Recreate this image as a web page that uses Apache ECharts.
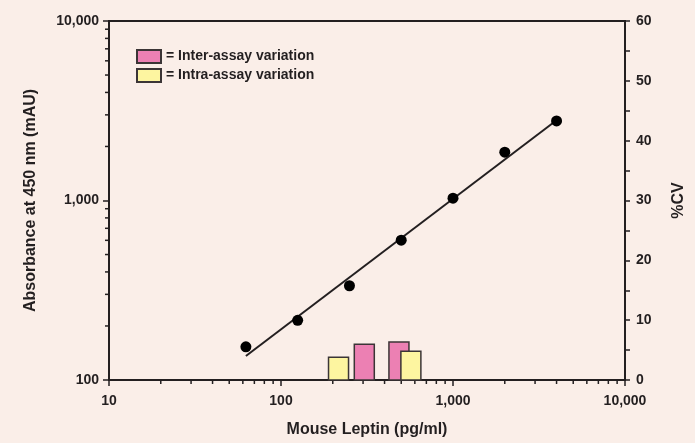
<!DOCTYPE html>
<html>
<head>
<meta charset="utf-8">
<script src="https://cdn.jsdelivr.net/npm/echarts@6/dist/echarts.min.js"></script>
<style>
html,body{margin:0;padding:0;background:#faeee8;overflow:hidden;}
#chart{width:695px;height:443px;}
</style>
</head>
<body>
<div id="chart"></div>
<script>
// Standard curve (Mouse Leptin, pg/ml vs absorbance mAU)
const concentrations = [62.5, 125, 250, 500, 1000, 2000, 4000];
const absorbance = [153, 215, 335, 601, 1030, 1858, 2777];
// Fitted line end points
const fitX = [62.5, 4000];
const fitY = [136, 2800];
// %CV bars: centre concentration and %CV value
const interCenters = [305, 485];
const interCV = [5.96, 6.34];
const intraCenters = [216, 569];
const intraCV = [3.81, 4.80];
// Axis ranges / ticks
const xMin = 10, xMax = 10000;
const yMin = 100, yMax = 10000;
const cvMin = 0, cvMax = 60, cvInterval = 10;
const xDecades = [10, 100, 1000];
const yDecades = [100, 1000];
const minorMultipliers = [2, 3, 4, 5, 6, 7, 8, 9];

const INK = '#231f20';
const FONT = '"Liberation Sans", Arial, sans-serif';
const BAR_W = 20;

function fmt(v){ return Math.round(v).toLocaleString('en-US'); }

function barRender(params, api){
  const c = api.value(0), v = api.value(1);
  const top = api.coord([c, v]);
  const base = api.coord([c, 0]);
  const st = api.visual('color');
  return {
    type: 'rect',
    shape: {x: top[0] - BAR_W/2, y: top[1], width: BAR_W, height: base[1] - top[1]},
    style: {fill: st, stroke: '#3b3536', lineWidth: 1.5}
  };
}

const chart = echarts.init(document.getElementById('chart'), null, {renderer: 'canvas'});
chart.setOption({
  backgroundColor: '#faeee8',
  animation: false,
  textStyle: {fontFamily: FONT},
  grid: {left: 109, right: 65, top: 21, bottom: 60, show: true, borderColor: INK, borderWidth: 2, backgroundColor: 'transparent'},
  legend: {
    orient: 'vertical', left: 136, top: 49, padding: 0, itemWidth: 24, itemHeight: 13, itemGap: 4,
    icon: 'rect',
    data: ['= Inter-assay variation', '= Intra-assay variation'],
    textStyle: {fontFamily: FONT, fontWeight: 'bold', fontSize: 14, lineHeight: 13, color: INK},
    selectedMode: false
  },
  xAxis: {
    type: 'log', logBase: 10, min: xMin, max: xMax,
    name: 'Mouse Leptin (pg/ml)', nameLocation: 'middle', nameGap: 42,
    nameTextStyle: {fontFamily: FONT, fontWeight: 'bold', fontSize: 16, color: INK},
    axisLine: {lineStyle: {color: INK, width: 2}},
    axisTick: {show: true, length: 6, lineStyle: {color: INK, width: 1.5}},
    axisLabel: {formatter: fmt, fontFamily: FONT, fontWeight: 'bold', fontSize: 14, color: INK, margin: 14},
    splitLine: {show: false}
  },
  yAxis: [{
    type: 'log', logBase: 10, min: yMin, max: yMax, position: 'left',
    name: 'Absorbance at 450 nm (mAU)', nameLocation: 'middle', nameGap: 70,
    nameTextStyle: {fontFamily: FONT, fontWeight: 'bold', fontSize: 16, color: INK},
    axisLine: {show: true, lineStyle: {color: INK, width: 2}},
    axisTick: {show: true, length: 6, lineStyle: {color: INK, width: 1.5}},
    axisLabel: {formatter: fmt, fontFamily: FONT, fontWeight: 'bold', fontSize: 14, color: INK, margin: 10},
    splitLine: {show: false}
  }, {
    type: 'value', min: cvMin, max: cvMax, interval: cvInterval, position: 'right',
    name: '%CV', nameLocation: 'middle', nameGap: 46, nameRotate: 90,
    nameTextStyle: {fontFamily: FONT, fontWeight: 'bold', fontSize: 16, color: INK},
    axisLine: {show: true, lineStyle: {color: INK, width: 2}},
    axisTick: {show: true, length: 5, lineStyle: {color: INK, width: 1.5}},
    minorTick: {show: true, splitNumber: 2, length: 5, lineStyle: {color: INK, width: 1.5}},
    axisLabel: {fontFamily: FONT, fontWeight: 'bold', fontSize: 14, color: INK, margin: 11},
    splitLine: {show: false}
  }],
  series: [
    {
      type: 'custom', name: 'minorTicks', xAxisIndex: 0, yAxisIndex: 0, silent: true, clip: false,
      data: [[xMin, yMin]],
      renderItem: function(params, api){
        const children = [];
        xDecades.forEach(d => minorMultipliers.forEach(m => {
          const p = api.coord([d*m, yMin]);
          children.push({type:'line', shape:{x1:p[0], y1:p[1], x2:p[0], y2:p[1]+4}, style:{stroke: INK, lineWidth: 1.5}});
        }));
        yDecades.forEach(d => minorMultipliers.forEach(m => {
          const p = api.coord([xMin, d*m]);
          children.push({type:'line', shape:{x1:p[0]-4, y1:p[1], x2:p[0], y2:p[1]}, style:{stroke: INK, lineWidth: 1.5}});
        }));
        return {type: 'group', children: children};
      }
    },
    {
      type: 'custom', name: '= Inter-assay variation', xAxisIndex: 0, yAxisIndex: 1,
      itemStyle: {color: '#ec80b3', borderColor: '#3b3536', borderWidth: 1.5},
      data: interCenters.map((c, i) => [c, interCV[i]]),
      renderItem: barRender, z: 2
    },
    {
      type: 'custom', name: '= Intra-assay variation', xAxisIndex: 0, yAxisIndex: 1,
      itemStyle: {color: '#fdf5a0', borderColor: '#3b3536', borderWidth: 1.5},
      data: intraCenters.map((c, i) => [c, intraCV[i]]),
      renderItem: barRender, z: 3
    },
    {
      type: 'line', name: 'fit', xAxisIndex: 0, yAxisIndex: 0, symbol: 'none', z: 4,
      lineStyle: {color: INK, width: 2},
      data: fitX.map((x, i) => [x, fitY[i]])
    },
    {
      type: 'scatter', name: 'standards', xAxisIndex: 0, yAxisIndex: 0, z: 5,
      symbolSize: 11, itemStyle: {color: '#000', opacity: 1},
      data: concentrations.map((x, i) => [x, absorbance[i]])
    }
  ]
});
</script>
</body>
</html>
